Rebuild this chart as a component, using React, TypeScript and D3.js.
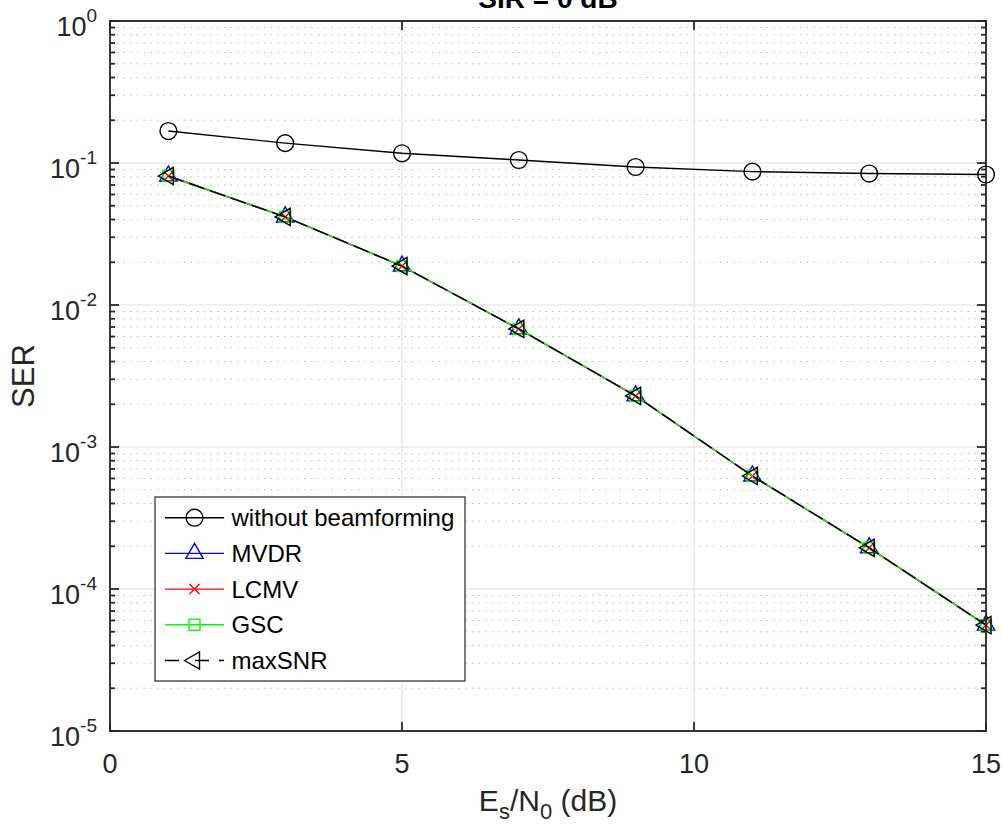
import React from "react";
import * as d3 from "d3";

const esn0 = [1, 3, 5, 7, 9, 11, 13, 15];
const serNoBF = [0.168, 0.138, 0.117, 0.105, 0.0937, 0.087, 0.0843, 0.083];
const serMVDR = [0.081, 0.0417, 0.0188, 0.00678, 0.00229, 0.000625, 0.000195, 0.0000557];
const serLCMV = [0.081, 0.0417, 0.0188, 0.00678, 0.00229, 0.000625, 0.000195, 0.0000557];
const serGSC = [0.081, 0.0417, 0.0188, 0.00678, 0.00229, 0.000625, 0.000195, 0.0000557];
const serMaxSNR = [0.081, 0.0417, 0.0188, 0.00678, 0.00229, 0.000625, 0.000195, 0.0000557];

const xTicks = [0, 5, 10, 15];
const yTickExps = [0, -1, -2, -3, -4, -5];
const legendLabels = ["without beamforming", "MVDR", "LCMV", "GSC", "maxSNR"];

const W = 1003;
const H = 831;
const L = 110, T = 21, R = 986, B = 731;
const FONT = "'Liberation Sans', Arial, Helvetica, sans-serif";
const AX = "#262626";

type MarkerKind = "circle" | "up" | "x" | "square" | "left";

function Marker({ kind, x, y, color }: { kind: MarkerKind; x: number; y: number; color: string }) {
  const sw = 1.4;
  if (kind === "circle") return <circle cx={x} cy={y} r={8.4} fill="none" stroke={color} strokeWidth={sw} />;
  if (kind === "square") return <rect x={x - 5.5} y={y - 5.5} width={11} height={11} fill="none" stroke={color} strokeWidth={sw} />;
  if (kind === "x") return <path d={`M${x - 5},${y - 5}L${x + 5},${y + 5}M${x - 5},${y + 5}L${x + 5},${y - 5}`} stroke={color} strokeWidth={sw} fill="none" />;
  const r = 10;
  if (kind === "up") {
    const pts = [[x, y - r], [x + r * 0.866, y + r * 0.5], [x - r * 0.866, y + r * 0.5]];
    return <polygon points={pts.map((p) => p.join(",")).join(" ")} fill="none" stroke={color} strokeWidth={sw} />;
  }
  const pts = [[x - r, y], [x + r * 0.5, y - r * 0.866], [x + r * 0.5, y + r * 0.866]];
  return <polygon points={pts.map((p) => p.join(",")).join(" ")} fill="none" stroke={color} strokeWidth={sw} />;
}

export default function App() {
  const x = d3.scaleLinear().domain([0, 15]).range([L, R]);
  const y = d3.scaleLog().domain([1e-5, 1]).range([B, T]);

  const series = [
    { name: legendLabels[0], data: serNoBF, color: "#000000", marker: "circle" as MarkerKind, dash: undefined as string | undefined },
    { name: legendLabels[1], data: serMVDR, color: "#0000ff", marker: "up" as MarkerKind, dash: undefined },
    { name: legendLabels[2], data: serLCMV, color: "#ff0000", marker: "x" as MarkerKind, dash: undefined },
    { name: legendLabels[3], data: serGSC, color: "#00ff00", marker: "square" as MarkerKind, dash: undefined },
    { name: legendLabels[4], data: serMaxSNR, color: "#000000", marker: "left" as MarkerKind, dash: "16 6" },
  ];

  const line = d3
    .line<number>()
    .x((_, i) => x(esn0[i]))
    .y((d) => y(d));

  const minors: number[] = [];
  for (let k = -5; k < 0; k++) for (let m = 2; m <= 9; m++) minors.push(m * Math.pow(10, k));

  const legX = 155, legY = 497, legW = 310, legH = 184;
  const rowY0 = 517.7, rowDy = 35.7;

  return (
    <div style={{ position: "absolute", left: 0, top: 0 }}>
      <svg width={W} height={H} style={{ display: "block", background: "#fff" }}>
        <rect x={0} y={0} width={W} height={H} fill="#fff" />
        {/* minor grid */}
        {minors.map((v, i) => (
          <line key={"mg" + i} x1={L} x2={R} y1={y(v)} y2={y(v)} stroke="#bdbdbd" strokeWidth={1} strokeDasharray="1.5 5.2" />
        ))}
        {/* major grid */}
        {yTickExps.map((e) => (
          <line key={"yg" + e} x1={L} x2={R} y1={y(Math.pow(10, e))} y2={y(Math.pow(10, e))} stroke="#dfdfdf" strokeWidth={1} />
        ))}
        {xTicks.map((t) => (
          <line key={"xg" + t} x1={x(t)} x2={x(t)} y1={T} y2={B} stroke="#dfdfdf" strokeWidth={1} />
        ))}

        {/* series */}
        <g>
          {series.map((s, si) => (
            <g key={"s" + si}>
              <path d={line(s.data) || ""} fill="none" stroke={s.color} strokeWidth={1.4} strokeDasharray={s.dash} />
              {s.data.map((v, i) => (
                <Marker key={i} kind={s.marker} x={x(esn0[i])} y={y(v)} color={s.color} />
              ))}
            </g>
          ))}
        </g>

        {/* axes box */}
        <rect x={L} y={T} width={R - L} height={B - T} fill="none" stroke={AX} strokeWidth={1.8} />
        {/* y ticks */}
        {yTickExps.map((e) => {
          const yy = y(Math.pow(10, e));
          return (
            <g key={"yt" + e}>
              <line x1={L} x2={L + 9} y1={yy} y2={yy} stroke={AX} strokeWidth={1.8} />
              <line x1={R} x2={R - 9} y1={yy} y2={yy} stroke={AX} strokeWidth={1.8} />
              <text x={97} y={yy + 15} textAnchor="end" fontFamily={FONT} fontSize={27} fill={AX}>
                <tspan>10</tspan>
                <tspan dy={-14} fontSize={19}>{String(e)}</tspan>
              </text>
            </g>
          );
        })}
        {minors.map((v, i) => (
          <g key={"mt" + i}>
            <line x1={L} x2={L + 5} y1={y(v)} y2={y(v)} stroke={AX} strokeWidth={1.8} />
            <line x1={R} x2={R - 5} y1={y(v)} y2={y(v)} stroke={AX} strokeWidth={1.8} />
          </g>
        ))}
        {/* x ticks */}
        {xTicks.map((t) => (
          <g key={"xt" + t}>
            <line x1={x(t)} x2={x(t)} y1={B} y2={B - 9} stroke={AX} strokeWidth={1.8} />
            <line x1={x(t)} x2={x(t)} y1={T} y2={T + 9} stroke={AX} strokeWidth={1.8} />
            <text x={x(t)} y={773} textAnchor="middle" fontFamily={FONT} fontSize={27} fill={AX}>
              {t}
            </text>
          </g>
        ))}

        {/* labels */}
        <text x={(L + R) / 2} y={811} textAnchor="middle" fontFamily={FONT} fontSize={30} fill={AX}>
          <tspan>E</tspan>
          <tspan dy={8} fontSize={22}>s</tspan>
          <tspan dy={-8}>/N</tspan>
          <tspan dy={8} fontSize={22}>0</tspan>
          <tspan dy={-8}> (dB)</tspan>
        </text>
        <text transform={`translate(34,${(T + B) / 2}) rotate(-90)`} textAnchor="middle" fontFamily={FONT} fontSize={31} fill={AX}>
          SER
        </text>
        <text x={(L + R) / 2} y={7.5} textAnchor="middle" fontFamily={FONT} fontSize={28} fontWeight="bold" fill="#000">
          SIR = 0 dB
        </text>

        {/* legend */}
        <rect x={legX} y={legY} width={legW} height={legH} fill="#fff" stroke={AX} strokeWidth={1.2} />
        {series.map((s, i) => {
          const yy = rowY0 + i * rowDy;
          return (
            <g key={"lg" + i}>
              <line x1={165} x2={224} y1={yy} y2={yy} stroke={s.color} strokeWidth={1.4} strokeDasharray={s.dash ? "14 16 14 10" : undefined} />
              <Marker kind={s.marker} x={194.5} y={yy} color={s.color} />
              <text x={231.5} y={yy + 8.5} fontFamily={FONT} fontSize={24} fill="#000">
                {s.name}
              </text>
            </g>
          );
        })}
      </svg>
    </div>
  );
}
